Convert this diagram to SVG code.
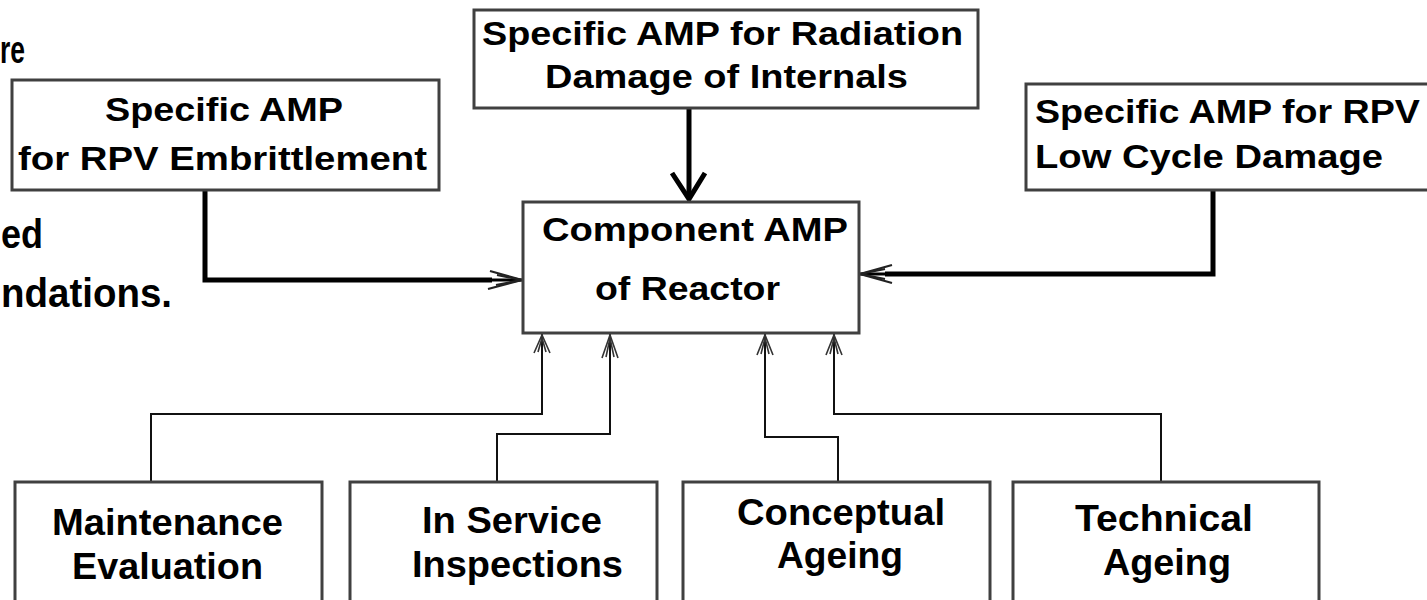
<svg xmlns="http://www.w3.org/2000/svg" width="1427" height="600" viewBox="0 0 1427 600">
<style>
.box{fill:#fff;stroke:#404040;stroke-width:3}
.t{font-family:"Liberation Sans",Arial,sans-serif;font-weight:bold;fill:#000}
.ts{font-size:33px}
.tb{font-size:37px}
.tf{font-size:40px}
.thick{fill:none;stroke:#000;stroke-width:5}
.thin{fill:none;stroke:#111;stroke-width:2}
.barb{fill:none;stroke:#333;stroke-width:1.6}
.hbarb{fill:none;stroke:#222;stroke-width:2.2}
</style>
<rect width="1427" height="600" fill="#fff"/>

<g id="fragments">
<text class="t" font-size="38" x="0" y="63" textLength="25" lengthAdjust="spacingAndGlyphs">re</text>
<text class="t tf" x="1" y="248" textLength="42" lengthAdjust="spacingAndGlyphs">ed</text>
<text class="t tf" x="1" y="307" textLength="171" lengthAdjust="spacingAndGlyphs">ndations.</text>
</g>

<g id="connectors">
<!-- left thick connector -->
<polyline class="thick" points="205,190 205,280 492,280"/>
<line x1="490" y1="280" x2="522" y2="280" stroke="#000" stroke-width="3"/>
<polyline class="hbarb" points="490,271 522,280 488,289"/>
<polyline class="hbarb" points="497,275 522,280 496,285"/>
<!-- right thick connector -->
<polyline class="thick" points="1213,190 1213,274 885,274"/>
<line x1="887" y1="274" x2="860" y2="274" stroke="#000" stroke-width="3"/>
<polyline class="hbarb" points="892,265 860,274 892,283"/>
<polyline class="hbarb" points="885,269 860,274 885,279"/>
<!-- top thick arrow -->
<line class="thick" x1="689" y1="108" x2="689" y2="198"/>
<polyline class="thick" points="672,173 689,199 705,173"/>
<!-- bottom thin connectors -->
<polyline class="thin" points="151,482 151,414 542,414 542,334"/>
<polyline class="thin" points="497,482 497,434 610,434 610,334"/>
<polyline class="thin" points="838,482 838,437 765,437 765,334"/>
<polyline class="thin" points="1161,482 1161,414 834,414 834,334"/>
<g>
<polyline class="barb" points="534,353 542,335 550,353"/>
<polyline class="barb" points="538,352 542,338 546,352"/>
<polyline class="barb" points="602,358 610,335 618,358"/>
<polyline class="barb" points="606,357 610,338 614,357"/>
<polyline class="barb" points="757,355 765,335 773,355"/>
<polyline class="barb" points="761,354 765,338 769,354"/>
<polyline class="barb" points="826,355 834,335 842,355"/>
<polyline class="barb" points="830,354 834,338 838,354"/>
</g>
</g>

<g id="node-embrittlement">
<rect class="box" x="12" y="80" width="427" height="110"/>
<text class="t ts" x="105" y="121" textLength="238" lengthAdjust="spacingAndGlyphs">Specific AMP</text>
<text class="t ts" x="18" y="170" textLength="409" lengthAdjust="spacingAndGlyphs">for RPV Embrittlement</text>
</g>

<g id="node-radiation">
<rect class="box" x="474" y="10" width="504" height="98"/>
<text class="t ts" x="482" y="45" textLength="481" lengthAdjust="spacingAndGlyphs">Specific AMP for Radiation</text>
<text class="t ts" x="545" y="88" textLength="363" lengthAdjust="spacingAndGlyphs">Damage of Internals</text>
</g>

<g id="node-lowcycle">
<rect class="box" x="1026" y="84" width="410" height="106"/>
<text class="t ts" x="1035" y="123" textLength="385" lengthAdjust="spacingAndGlyphs">Specific AMP for RPV</text>
<text class="t ts" x="1035" y="168" textLength="348" lengthAdjust="spacingAndGlyphs">Low Cycle Damage</text>
</g>

<g id="node-component">
<rect class="box" x="523" y="202" width="336" height="131"/>
<text class="t ts" x="542" y="241" textLength="306" lengthAdjust="spacingAndGlyphs">Component AMP</text>
<text class="t ts" x="595" y="300" textLength="185" lengthAdjust="spacingAndGlyphs">of Reactor</text>
</g>

<g id="node-maintenance">
<rect class="box" x="15" y="482" width="307" height="160"/>
<text class="t tb" x="52" y="535" textLength="231" lengthAdjust="spacingAndGlyphs">Maintenance</text>
<text class="t tb" x="72" y="579" textLength="191" lengthAdjust="spacingAndGlyphs">Evaluation</text>
</g>

<g id="node-inspections">
<rect class="box" x="350" y="482" width="307" height="160"/>
<text class="t tb" x="422" y="533" textLength="180" lengthAdjust="spacingAndGlyphs">In Service</text>
<text class="t tb" x="412" y="577" textLength="211" lengthAdjust="spacingAndGlyphs">Inspections</text>
</g>

<g id="node-conceptual">
<rect class="box" x="683" y="482" width="307" height="160"/>
<text class="t tb" x="737" y="525" textLength="208" lengthAdjust="spacingAndGlyphs">Conceptual</text>
<text class="t tb" x="777" y="568" textLength="126" lengthAdjust="spacingAndGlyphs">Ageing</text>
</g>

<g id="node-technical">
<rect class="box" x="1013" y="482" width="306" height="160"/>
<text class="t tb" x="1075" y="531" textLength="178" lengthAdjust="spacingAndGlyphs">Technical</text>
<text class="t tb" x="1103" y="575" textLength="128" lengthAdjust="spacingAndGlyphs">Ageing</text>
</g>
</svg>
